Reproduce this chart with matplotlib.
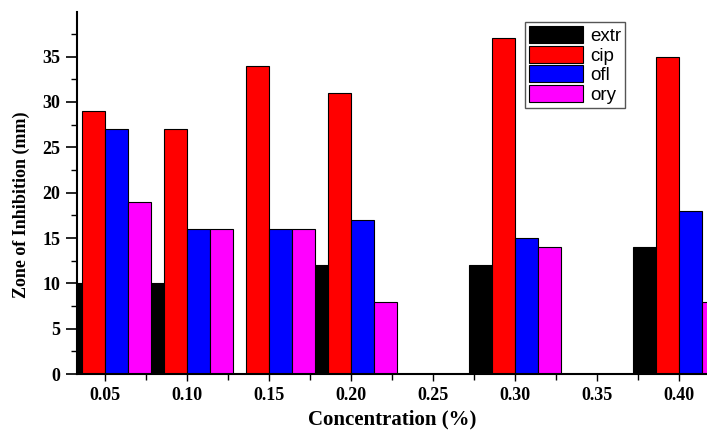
import numpy as np
import matplotlib.pyplot as plt
from matplotlib.ticker import MultipleLocator

# concentrations (%) and zone of inhibition (mm) for each sample
conc = [0.05, 0.10, 0.15, 0.20, 0.25, 0.30, 0.35, 0.40]
extr = [10, 10, 0, 12, 0, 12, 0, 14]
cip = [29, 27, 34, 31, 0, 37, 0, 35]
ofl = [27, 16, 16, 17, 0, 15, 0, 18]
ory = [19, 16, 16, 8, 0, 14, 0, 8]

series = [("extr", extr, "black"), ("cip", cip, "red"),
          ("ofl", ofl, "blue"), ("ory", ory, "magenta")]

fig = plt.figure(figsize=(7.07, 4.32), dpi=100)
ax = fig.add_axes([0.109, 0.134, 0.891, 0.838])

w = 0.014
x = np.array(conc)
for i, (name, vals, col) in enumerate(series):
    ax.bar(x + (i - 1.5) * w, vals, width=w, color=col,
           edgecolor="black", linewidth=0.8, label=name)

ax.set_xlim(0.0329, 0.417)
ax.set_ylim(0, 39.9)
ax.xaxis.set_minor_locator(MultipleLocator(0.025))
ax.yaxis.set_major_locator(MultipleLocator(5))
ax.yaxis.set_minor_locator(MultipleLocator(2.5))
ax.set_xticks(conc)
ax.set_xticklabels(["%.2f" % c for c in conc])

for s in ["top", "right"]:
    ax.spines[s].set_visible(False)
ax.spines["left"].set_linewidth(1.5)
ax.spines["bottom"].set_linewidth(1.5)

ax.tick_params(axis="y", which="major", direction="out", length=8, width=1.2, pad=4)
ax.tick_params(axis="y", which="minor", direction="out", length=4, width=1.0)
ax.tick_params(axis="x", which="major", direction="out", length=5, width=1.0, pad=4)
ax.tick_params(axis="x", which="minor", direction="out", length=4, width=1.0)

for lab in ax.get_xticklabels() + ax.get_yticklabels():
    lab.set_family("Liberation Serif")
    lab.set_fontweight("bold")
    lab.set_fontsize(13)

ax.set_xlabel("Concentration (%)", family="Liberation Serif",
              fontweight="bold", fontsize=15, labelpad=4)
ax.set_ylabel("Zone of Inhibition (mm)", family="Liberation Serif",
              fontweight="bold", fontsize=13)
ax.yaxis.set_label_coords(-0.0746, 0.467)

leg = ax.legend(loc="upper left", bbox_to_anchor=(0.711, 0.972),
                borderaxespad=0, fancybox=False, framealpha=1,
                edgecolor="#555555", prop={"family": "Liberation Sans", "size": 13.5},
                handlelength=2.9, handleheight=1.0, labelspacing=0.05,
                handletextpad=0.4, borderpad=0.2)
leg.get_frame().set_linewidth(1.0)

fig.savefig("out.png", dpi=100)
